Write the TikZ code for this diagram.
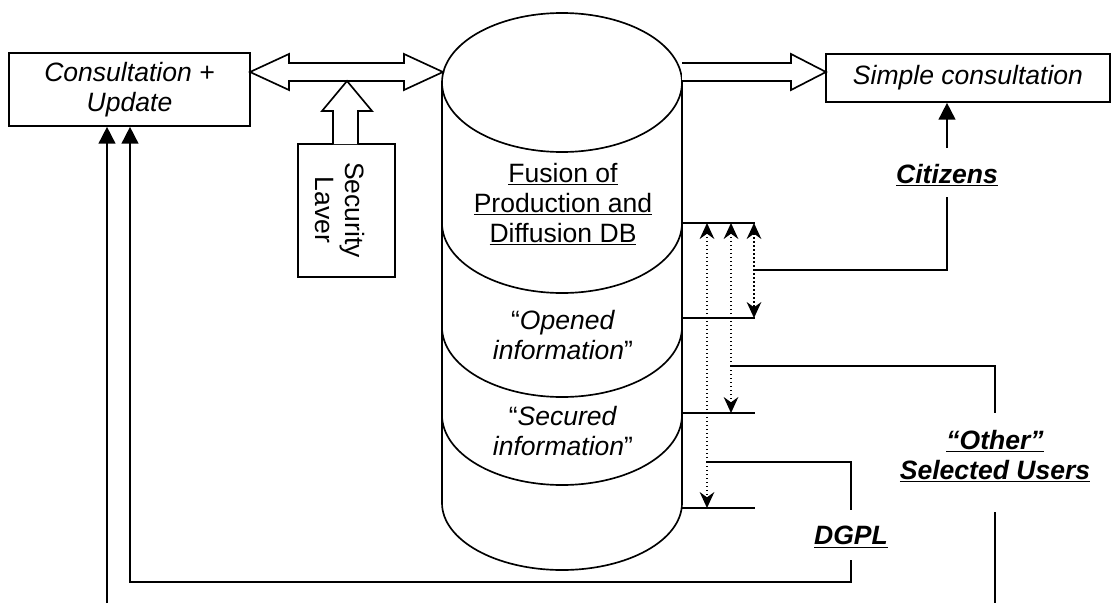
\documentclass[tikz,border=0pt]{standalone}
\usepackage{fontspec}
\setmainfont{Liberation Sans}
\usetikzlibrary{arrows.meta}
\begin{document}
\begin{tikzpicture}[x=0.75pt,y=-0.75pt,line width=1.25pt,
  lbl/.style={font=\fontsize{19.9}{22.5}\selectfont, align=center, inner sep=0pt},
  blbl/.style={lbl, font=\fontsize{19.9}{22.5}\selectfont\bfseries\itshape},
  box/.style={draw, lbl},
  block/.style={draw, fill=white, line width=1.25pt, line join=miter},
  tri/.style={-{Triangle[length=12.5pt,width=12.5pt]}},
  dt/.style={dotted, line width=1pt, -{Stealth[length=12pt,width=11pt,inset=4pt]}},
  dtt/.style={dotted, line width=1pt, {Stealth[length=12pt,width=11pt,inset=4pt]}-{Stealth[length=12pt,width=11pt,inset=4pt]}}
]
\useasboundingbox (0,0) rectangle (1113,603);

% ---- boxes ----
\node[box, minimum width=180.75pt, minimum height=54.75pt] (cu) at (129.5,89.5)
  {\textit{Consultation +}\\\textit{Update}};
\node[box, minimum width=213pt, minimum height=36pt] (sc) at (968,78)
  {\textit{Simple consultation}};

% ---- cylinder ----
\draw (442,82.5) -- (442,503) (682,82.5) -- (682,503);
\draw[fill=white] (562,82.5) ellipse [x radius=120, y radius=69.5];
\draw (442,223) .. controls (442,261.7) and (495.7,293) .. (562,293)
                .. controls (628.3,293) and (682,261.7) .. (682,223);
\draw (442,327) .. controls (442,365.7) and (495.7,397) .. (562,397)
                .. controls (628.3,397) and (682,365.7) .. (682,327);
\draw (442,415) .. controls (442,453.7) and (495.7,485) .. (562,485)
                .. controls (628.3,485) and (682,453.7) .. (682,415);
\draw (442,503) .. controls (442,540) and (495.7,570) .. (562,570)
                .. controls (628.3,570) and (682,540) .. (682,503);

\node[lbl] (fusion) at (563,204) {\underline{Fusion of}\\\underline{Production and}\\\underline{Diffusion DB}};
\node[lbl] (opened) at (563,335) {“\textit{Opened}\\\textit{information}”};
\node[lbl] (secured) at (563,431) {“\textit{Secured}\\\textit{information}”};

% ---- security layer ----
\node[draw, minimum width=72.75pt, minimum height=99.75pt] (sec) at (346.5,210.5) {};
\node[lbl, rotate=-90] (sectxt) at (340,210) {Security\\Laver};

% ---- block arrows ----
\draw[block] (250,72) -- (289,54) -- (289,63) -- (404,63) -- (404,54) -- (443,72)
  -- (404,90) -- (404,81) -- (289,81) -- (289,90) -- cycle;
\draw[block] (333,144) -- (333,111) -- (322,111) -- (347,81) -- (372,111) -- (358,111) -- (358,144);
\draw[block] (682,63) -- (791,63) -- (791,54) -- (826,72) -- (791,90) -- (791,81) -- (682,81);

% ---- shelves on the cylinder ----
\coordinate (s1a) at (682,223); \coordinate (s1b) at (755,223);
\coordinate (s2a) at (682,318); \coordinate (s2b) at (755,318);
\coordinate (s3a) at (682,413); \coordinate (s3b) at (755,413);
\coordinate (s4a) at (682,508); \coordinate (s4b) at (755,508);
\draw (s1a) -- (s1b) (s2a) -- (s2b) (s3a) -- (s3b) (s4a) -- (s4b);

% ---- labels ----
\node[blbl] (cit) at (947,175) {\underline{Citizens}};
\node[blbl] (oth) at (995,456) {\underline{“Other”}\\\underline{Selected Users}};
\node[blbl] (dgpl) at (851,537) {\underline{DGPL}};

% ---- junctions ----
\coordinate (jc) at (754,270);
\coordinate (jo) at (731,366);
\coordinate (jd) at (707,462);
\coordinate (citb) at (947,197);
\coordinate (citt) at (947,148);
\coordinate (otht) at (995,413);
\coordinate (othb) at (995,512);
\coordinate (othend) at (995,603);
\coordinate (dgt) at (851,510);
\coordinate (dgb) at (851,560);
\coordinate (lfree) at (107,603);

% ---- dotted access arrows ----
\draw[dtt] (754,223) -- (754,318);
\draw[dt] (jo) -- (731,223);
\draw[dt] (jo) -- (731,413);
\draw[dt] (jd) -- (707,223);
\draw[dt] (jd) -- (707,508);

% ---- solid connectors ----
\draw (jc) -| (citb);
\draw[tri] (citt) -- (sc.south -| citt);
\draw (jo) -| (otht);
\draw (othb) -- (othend);
\draw (jd) -| (dgt);
\draw[tri] (dgb) |- (130,582) -- (cu.south -| 130,0);
\draw[tri] (lfree) -- (cu.south -| lfree);
\end{tikzpicture}
\end{document}
